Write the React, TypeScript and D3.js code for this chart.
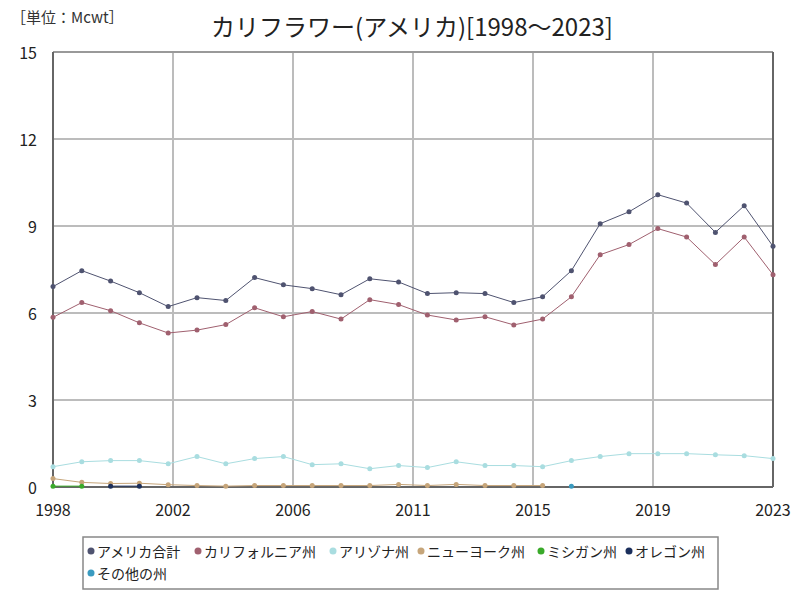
import React from "react";
import * as d3 from "d3";

const years: number[] = d3.range(1998, 2024);
const totalUS: (number | null)[] = [6.91, 7.46, 7.1, 6.7, 6.22, 6.53, 6.43, 7.22, 6.97, 6.84, 6.63, 7.18, 7.07, 6.67, 6.7, 6.67, 6.36, 6.56, 7.46, 9.08, 9.49, 10.08, 9.79, 8.78, 9.7, 8.3];
const california: (number | null)[] = [5.85, 6.36, 6.08, 5.66, 5.31, 5.41, 5.6, 6.18, 5.87, 6.05, 5.79, 6.46, 6.29, 5.93, 5.76, 5.87, 5.59, 5.79, 6.56, 8.01, 8.36, 8.91, 8.62, 7.67, 8.62, 7.32];
const arizona: (number | null)[] = [0.7, 0.87, 0.91, 0.91, 0.8, 1.05, 0.8, 0.98, 1.05, 0.77, 0.8, 0.63, 0.74, 0.67, 0.87, 0.74, 0.74, 0.7, 0.91, 1.05, 1.15, 1.15, 1.15, 1.11, 1.08, 0.98];
const newYork: (number | null)[] = [0.29, 0.16, 0.12, 0.13, 0.08, 0.05, 0.03, 0.05, 0.05, 0.05, 0.05, 0.05, 0.09, 0.05, 0.09, 0.05, 0.05, 0.05, null, null, null, null, null, null, null, null];
const michigan: (number | null)[] = [0.03, 0.03, null, null, null, null, null, null, null, null, null, null, null, null, null, null, null, null, null, null, null, null, null, null, null, null];
const oregon: (number | null)[] = [null, null, 0.03, 0.03, null, null, null, null, null, null, null, null, null, null, null, null, null, null, null, null, null, null, null, null, null, null];
const others: (number | null)[] = [null, null, null, null, null, null, null, null, null, null, null, null, null, null, null, null, null, null, 0.03, null, null, null, null, null, null, null];

const seriesNames: string[] = ["アメリカ合計", "カリフォルニア州", "アリゾナ州", "ニューヨーク州", "ミシガン州", "オレゴン州", "その他の州"];
const seriesColors: string[] = ["#4f5370", "#a0606f", "#a9dde0", "#c6a57a", "#3aaa2a", "#1b2f5c", "#3a9bc0"];
const yTicks: number[] = [0, 3, 6, 9, 12, 15];
const xTickLabels: string[] = ["1998", "2002", "2006", "2011", "2015", "2019", "2023"];

const titleText = "カリフラワー(アメリカ)[1998～2023]";
const unitText = "［単位：Mcwt］";

const W = 800, H = 600;
const L = 53, R = 773, T = 52, B = 487;
const FONT = "'Noto Sans CJK JP', 'Noto Sans', sans-serif";

export default function App() {
  const seriesValues = [totalUS, california, arizona, newYork, michigan, oregon, others];
  const x = d3.scaleLinear().domain([1998, 2023]).range([L, R]);
  const y = d3.scaleLinear().domain([0, 15]).range([B, T]);
  const xGrid = d3.range(0, 7).map((i) => 1998 + (i * 25) / 6);

  const line = d3
    .line<[number, number | null]>()
    .defined((d) => d[1] !== null)
    .x((d) => x(d[0]))
    .y((d) => y(d[1] as number));

  const legendRow1 = [91, 198, 333, 421, 541, 629];
  const legendPos = seriesNames.map((_, i) =>
    i < 6 ? { x: legendRow1[i], y: 551 } : { x: 91, y: 573 }
  );

  return (
    <svg width={W} height={H} style={{ position: "absolute", left: 0, top: 0, background: "#fff" }} fontFamily={FONT}>
      <rect x={0} y={0} width={W} height={H} fill="#fff" />
      <text x={11} y={23} fontSize={15} fill="#333">{unitText}</text>
      <text x={412} y={36} fontSize={24} textAnchor="middle" fill="#222">{titleText}</text>

      {yTicks.map((t) => (
        <line key={"hy" + t} x1={L} x2={R} y1={y(t)} y2={y(t)} stroke="#bcbcbc" strokeWidth={2} />
      ))}
      {xGrid.map((g, i) => (
        <line key={"vx" + i} x1={x(g)} x2={x(g)} y1={T} y2={B} stroke="#bcbcbc" strokeWidth={2} />
      ))}
      <line x1={L} x2={R} y1={T} y2={T} stroke="#999" strokeWidth={2} />
      <line x1={L} x2={L} y1={T} y2={B} stroke="#666" strokeWidth={2} />
      <line x1={R} x2={R} y1={T} y2={B} stroke="#666" strokeWidth={2} />
      <line x1={L} x2={R} y1={B} y2={B} stroke="#666" strokeWidth={2} />

      {yTicks.map((t) => (
        <text key={"yl" + t} x={37} y={y(t)} fontSize={16} textAnchor="end" dominantBaseline="central" fill="#222">{t}</text>
      ))}
      {xGrid.map((g, i) => (
        <text key={"xl" + i} x={x(g)} y={509} fontSize={16} textAnchor="middle" dominantBaseline="central" fill="#222">{xTickLabels[i]}</text>
      ))}

      {seriesValues.map((vals, si) => {
        const data: [number, number | null][] = years.map((yr, i) => [yr, vals[i]]);
        return (
          <g key={"s" + si}>
            <path d={line(data) || ""} fill="none" stroke={seriesColors[si]} strokeWidth={1} />
            {data.filter((d) => d[1] !== null).map((d, j) => (
              <circle key={j} cx={x(d[0])} cy={y(d[1] as number)} r={2.5} fill={seriesColors[si]} />
            ))}
          </g>
        );
      })}

      <rect x={83} y={537} width={635} height={52} fill="#fff" stroke="#888" strokeWidth={1.5} />
      {seriesNames.map((n, i) => (
        <g key={"lg" + i}>
          <circle cx={legendPos[i].x} cy={legendPos[i].y} r={3.5} fill={seriesColors[i]} />
          <text x={legendPos[i].x + 6} y={legendPos[i].y} fontSize={14} dominantBaseline="central" fill="#222">{n}</text>
        </g>
      ))}
    </svg>
  );
}
